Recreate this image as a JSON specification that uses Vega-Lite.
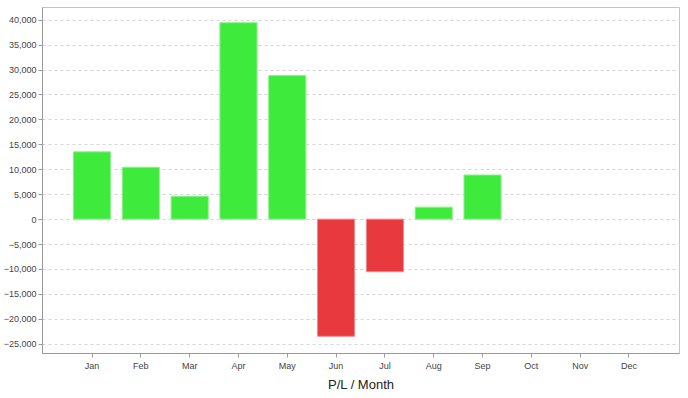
{
  "$schema": "https://vega.github.io/schema/vega-lite/v6.json",
  "width": 637,
  "height": 346,
  "autosize": {"type": "none"},
  "padding": {"left": 42, "top": 7, "right": 9, "bottom": 45},
  "background": "white",
  "config": {
    "view": {"stroke": "#c4c4c4", "strokeWidth": 1},
    "font": "Liberation Sans",
    "axis": {
      "labelFont": "Liberation Sans",
      "titleFont": "Liberation Sans",
      "labelFontSize": 9,
      "labelColor": "#444444",
      "domainColor": "#9a9a9a",
      "tickColor": "#9a9a9a",
      "tickSize": 4,
      "gridColor": "#d6d6d6",
      "gridDash": [3, 3]
    }
  },
  "data": {
    "values": [
      {"month": "Jan", "pl": 13500},
      {"month": "Feb", "pl": 10400},
      {"month": "Mar", "pl": 4600},
      {"month": "Apr", "pl": 39400},
      {"month": "May", "pl": 28800},
      {"month": "Jun", "pl": -23500},
      {"month": "Jul", "pl": -10550},
      {"month": "Aug", "pl": 2400},
      {"month": "Sep", "pl": 8850}
    ]
  },
  "mark": {"type": "bar", "strokeWidth": 1},
  "encoding": {
    "x": {
      "field": "month",
      "type": "nominal",
      "sort": null,
      "scale": {
        "domain": ["Jan", "Feb", "Mar", "Apr", "May", "Jun", "Jul", "Aug", "Sep", "Oct", "Nov", "Dec"],
        "paddingInner": 0.24,
        "paddingOuter": 0.645
      },
      "axis": {
        "title": "P/L / Month",
        "titleFontSize": 13,
        "titleFontWeight": "normal",
        "titleColor": "#222222",
        "titlePadding": 8,
        "labelAngle": 0,
        "labelPadding": 4,
        "grid": false
      }
    },
    "y": {
      "field": "pl",
      "type": "quantitative",
      "scale": {"domain": [-26850, 42550], "nice": false, "zero": false},
      "axis": {
        "title": null,
        "values": [-25000, -20000, -15000, -10000, -5000, 0, 5000, 10000, 15000, 20000, 25000, 30000, 35000, 40000],
        "format": ",d",
        "labelPadding": 2,
        "grid": true
      }
    },
    "color": {
      "condition": {"test": "datum.pl < 0", "value": "#e8393e"},
      "value": "#3eea3c"
    },
    "stroke": {
      "condition": {"test": "datum.pl < 0", "value": "#f08a8d"},
      "value": "#8ef08c"
    }
  }
}
